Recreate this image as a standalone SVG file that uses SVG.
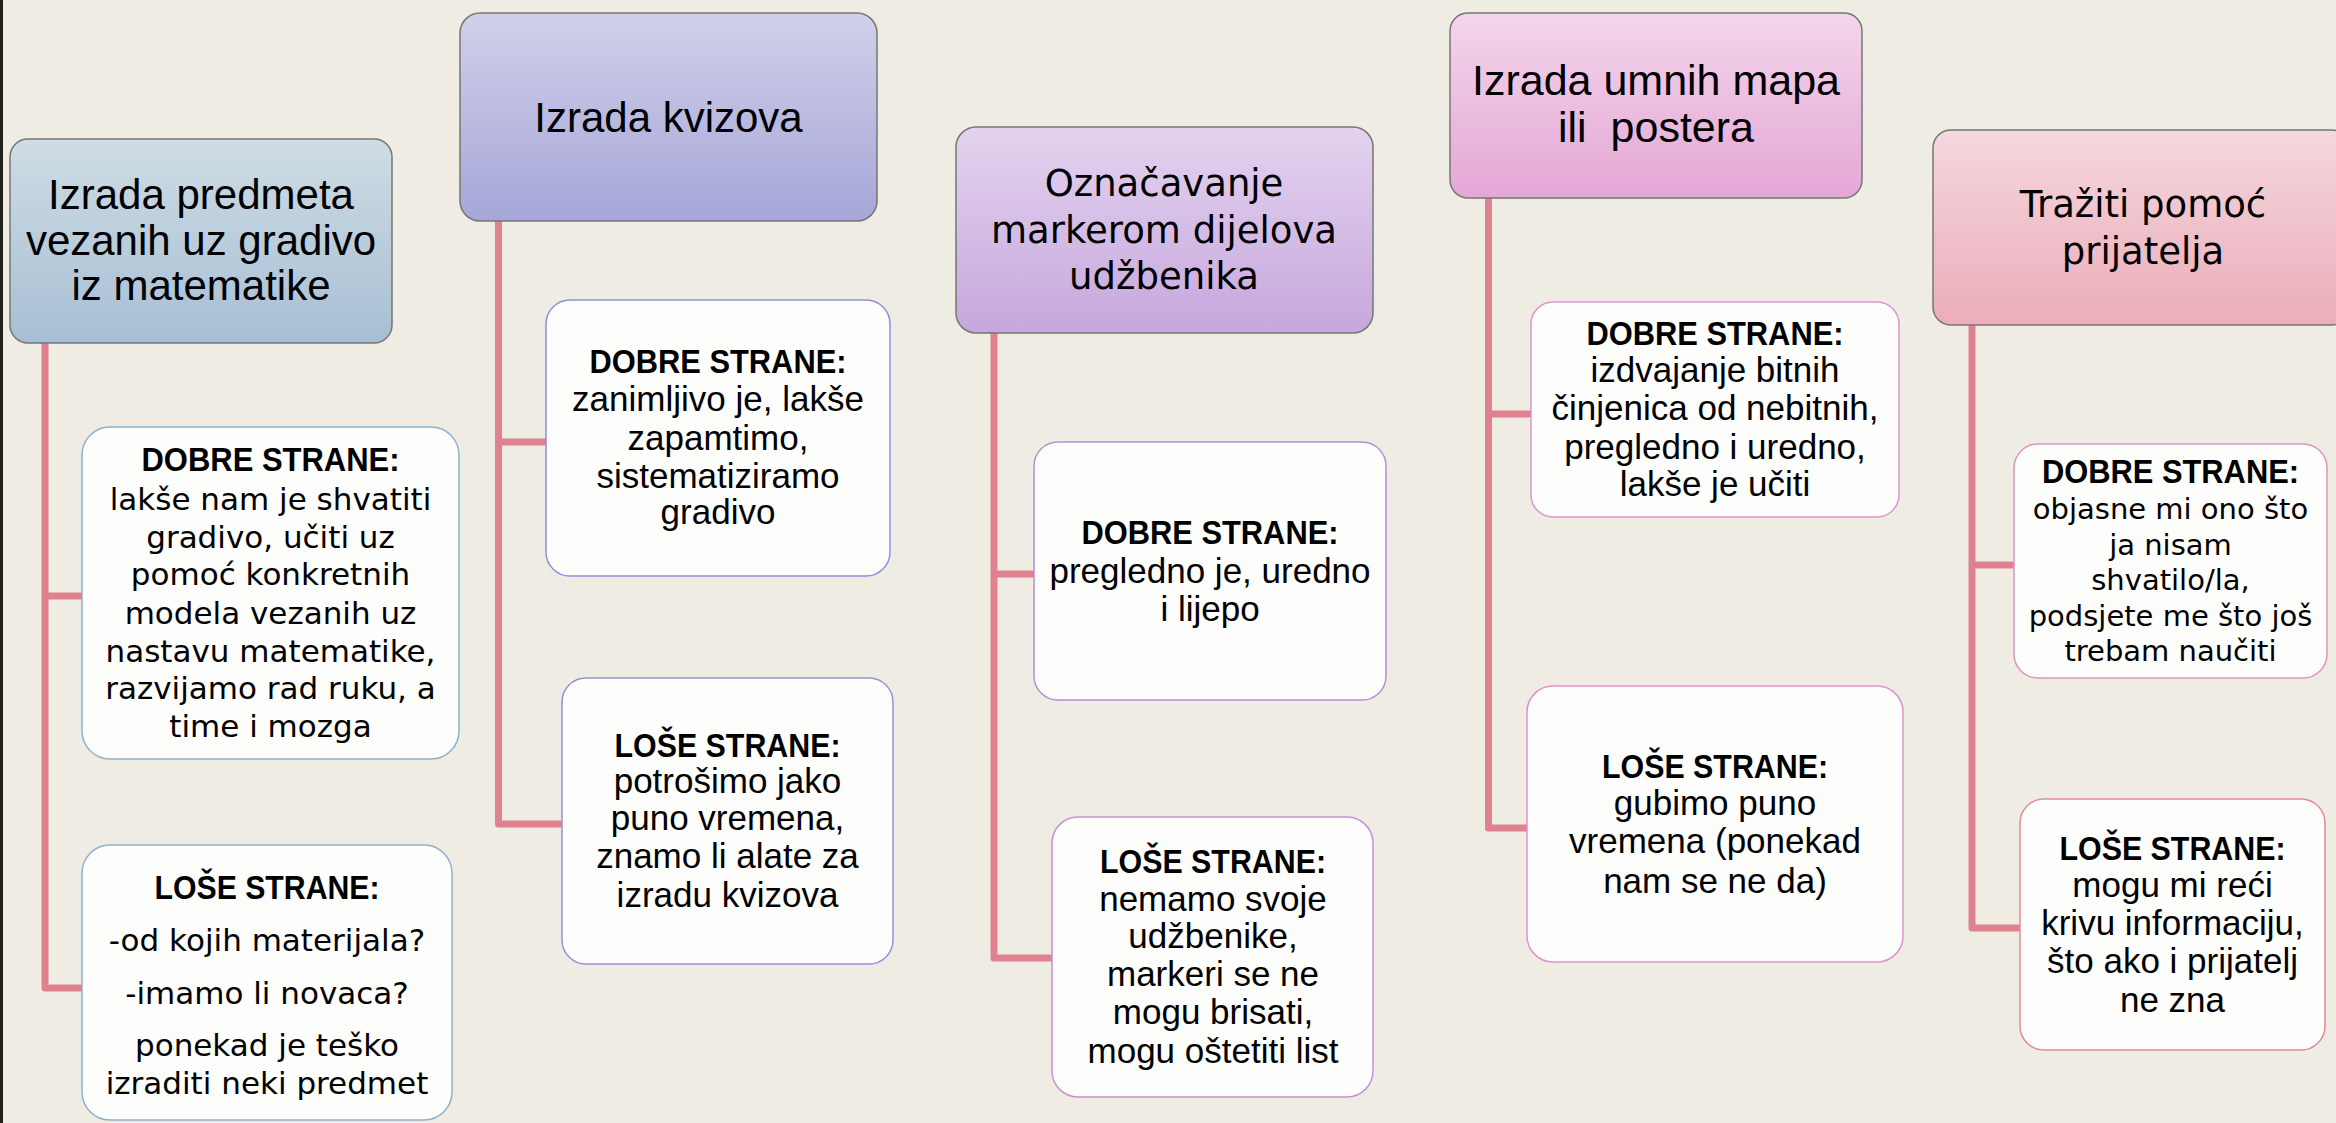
<svg xmlns="http://www.w3.org/2000/svg" width="2336" height="1123" viewBox="0 0 2336 1123">
<defs>
<style>
.bg{fill:#efece4}
.hdr{stroke:#767676;stroke-width:1.5}
.child{fill:#fdfdfb;stroke-width:1.5}
.conn{fill:none;stroke:#e0818f;stroke-width:7;stroke-linejoin:round;stroke-linecap:butt}
text{fill:#000;text-anchor:middle}
.h1{font-family:"Liberation Sans",Arial,sans-serif;font-size:42px}
.h2{font-family:"DejaVu Sans",Verdana,sans-serif;font-size:37px}
.hd{font-family:"Liberation Sans",Arial,sans-serif;font-size:34px;font-weight:bold}
.b{font-family:"Liberation Sans",Arial,sans-serif;font-size:35px}
.bv{font-family:"DejaVu Sans",Verdana,sans-serif;font-size:31px}
.bv2{font-family:"DejaVu Sans",Verdana,sans-serif;font-size:29px}
</style>
<linearGradient id="g1" x1="0" y1="0" x2="0" y2="1"><stop offset="0" stop-color="#cfdce4"/><stop offset="1" stop-color="#a7bfd4"/></linearGradient>
<linearGradient id="g2" x1="0" y1="0" x2="0" y2="1"><stop offset="0" stop-color="#d0d0ea"/><stop offset="1" stop-color="#a6a6d8"/></linearGradient>
<linearGradient id="g3" x1="0" y1="0" x2="0" y2="1"><stop offset="0" stop-color="#e3d3ef"/><stop offset="1" stop-color="#c7a7dd"/></linearGradient>
<linearGradient id="g4" x1="0" y1="0" x2="0" y2="1"><stop offset="0" stop-color="#f3d5eb"/><stop offset="1" stop-color="#e4a7d5"/></linearGradient>
<linearGradient id="g5" x1="0" y1="0" x2="0" y2="1"><stop offset="0" stop-color="#f5d7de"/><stop offset="1" stop-color="#ebadb9"/></linearGradient>
</defs>
<rect class="bg" x="0" y="0" width="2336" height="1123"/>
<rect x="0" y="0" width="3" height="1123" fill="#22221a"/>

<g id="connectors">
<path class="conn" d="M45,343 V988 H82 M45,596 H82"/>
<path class="conn" d="M498.5,220 V824 H562 M498.5,442 H547"/>
<path class="conn" d="M994,332 V958 H1052 M994,574 H1034"/>
<path class="conn" d="M1488.5,198 V828 H1527 M1488.5,414 H1531"/>
<path class="conn" d="M1972,324 V928 H2020 M1972,565 H2015"/>
</g>

<g id="n1">
<rect class="hdr" x="10" y="139" width="382" height="204" rx="18" fill="url(#g1)"/>
<text class="h1" x="201" y="209">Izrada predmeta</text>
<text class="h1" x="201" y="255">vezanih uz gradivo</text>
<text class="h1" x="201" y="300">iz matematike</text>
</g>
<g id="n1a">
<rect class="child" x="82" y="427" width="377" height="332" rx="28" stroke="#8fb1cd"/>
<text class="hd" x="270.5" y="471" textLength="258" lengthAdjust="spacingAndGlyphs">DOBRE STRANE:</text>
<text class="bv" x="270.5" y="510">lakše nam je shvatiti</text>
<text class="bv" x="270.5" y="547.5">gradivo, učiti uz</text>
<text class="bv" x="270.5" y="585">pomoć konkretnih</text>
<text class="bv" x="270.5" y="623.5">modela vezanih uz</text>
<text class="bv" x="270.5" y="662">nastavu matematike,</text>
<text class="bv" x="270.5" y="699">razvijamo rad ruku, a</text>
<text class="bv" x="270.5" y="736.5">time i mozga</text>
</g>
<g id="n1b">
<rect class="child" x="82" y="845" width="370" height="275" rx="28" stroke="#8fb1cd"/>
<text class="hd" x="267" y="899" textLength="225" lengthAdjust="spacingAndGlyphs">LOŠE STRANE:</text>
<text class="bv" x="267" y="951">-od kojih materijala?</text>
<text class="bv" x="267" y="1004">-imamo li novaca?</text>
<text class="bv" x="267" y="1055.5">ponekad je teško</text>
<text class="bv" x="267" y="1094">izraditi neki predmet</text>
</g>

<g id="n2">
<rect class="hdr" x="460" y="13" width="417" height="208" rx="20" fill="url(#g2)"/>
<text class="h1" x="668.5" y="132">Izrada kvizova</text>
</g>
<g id="n2a">
<rect class="child" x="546" y="300" width="344" height="276" rx="24" stroke="#8f90d8"/>
<text class="hd" x="718" y="373" textLength="257" lengthAdjust="spacingAndGlyphs">DOBRE STRANE:</text>
<text class="b" x="718" y="411">zanimljivo je, lakše</text>
<text class="b" x="718" y="450">zapamtimo,</text>
<text class="b" x="718" y="488">sistematiziramo</text>
<text class="b" x="718" y="524">gradivo</text>
</g>
<g id="n2b">
<rect class="child" x="562" y="678" width="331" height="286" rx="24" stroke="#9b8fd8"/>
<text class="hd" x="727.5" y="757" textLength="226" lengthAdjust="spacingAndGlyphs">LOŠE STRANE:</text>
<text class="b" x="727.5" y="793">potrošimo jako</text>
<text class="b" x="727.5" y="830">puno vremena,</text>
<text class="b" x="727.5" y="868">znamo li alate za</text>
<text class="b" x="727.5" y="907">izradu kvizova</text>
</g>

<g id="n3">
<rect class="hdr" x="956" y="127" width="417" height="206" rx="20" fill="url(#g3)"/>
<text class="h2" x="1164" y="196">Označavanje</text>
<text class="h2" x="1164" y="243">markerom dijelova</text>
<text class="h2" x="1164" y="289">udžbenika</text>
</g>
<g id="n3a">
<rect class="child" x="1034" y="442" width="352" height="258" rx="24" stroke="#b88fd8"/>
<text class="hd" x="1210" y="544" textLength="257" lengthAdjust="spacingAndGlyphs">DOBRE STRANE:</text>
<text class="b" x="1210" y="583">pregledno je, uredno</text>
<text class="b" x="1210" y="620.5">i lijepo</text>
</g>
<g id="n3b">
<rect class="child" x="1052" y="817" width="321" height="280" rx="26" stroke="#c690d8"/>
<text class="hd" x="1213" y="873" textLength="226" lengthAdjust="spacingAndGlyphs">LOŠE STRANE:</text>
<text class="b" x="1213" y="911">nemamo svoje</text>
<text class="b" x="1213" y="948">udžbenike,</text>
<text class="b" x="1213" y="986">markeri se ne</text>
<text class="b" x="1213" y="1024">mogu brisati,</text>
<text class="b" x="1213" y="1063">mogu oštetiti list</text>
</g>

<g id="n4">
<rect class="hdr" x="1450" y="13" width="412" height="185" rx="18" fill="url(#g4)"/>
<text class="h1" x="1656" y="95" style="font-size:43px">Izrada umnih mapa</text>
<text class="h1" x="1656" y="142" style="font-size:43px" xml:space="preserve">ili  postera</text>
</g>
<g id="n4a">
<rect class="child" x="1531" y="302" width="368" height="215" rx="22" stroke="#e092d4"/>
<text class="hd" x="1715" y="344.5" textLength="257" lengthAdjust="spacingAndGlyphs">DOBRE STRANE:</text>
<text class="b" x="1715" y="381.5">izdvajanje bitnih</text>
<text class="b" x="1715" y="420">činjenica od nebitnih,</text>
<text class="b" x="1715" y="459">pregledno i uredno,</text>
<text class="b" x="1715" y="496">lakše je učiti</text>
</g>
<g id="n4b">
<rect class="child" x="1527" y="686" width="376" height="276" rx="26" stroke="#e290cc"/>
<text class="hd" x="1715" y="778" textLength="226" lengthAdjust="spacingAndGlyphs">LOŠE STRANE:</text>
<text class="b" x="1715" y="815">gubimo puno</text>
<text class="b" x="1715" y="853">vremena (ponekad</text>
<text class="b" x="1715" y="893">nam se ne da)</text>
</g>

<g id="n5">
<rect class="hdr" x="1933" y="130" width="417" height="195" rx="18" fill="url(#g5)"/>
<text class="h2" x="2143" y="217">Tražiti pomoć</text>
<text class="h2" x="2143" y="264">prijatelja</text>
</g>
<g id="n5a">
<rect class="child" x="2014" y="444" width="313" height="234" rx="24" stroke="#e092c0"/>
<text class="hd" x="2170.5" y="483" textLength="257" lengthAdjust="spacingAndGlyphs">DOBRE STRANE:</text>
<text class="bv2" x="2170.5" y="519">objasne mi ono što</text>
<text class="bv2" x="2170.5" y="555">ja nisam</text>
<text class="bv2" x="2170.5" y="590">shvatilo/la,</text>
<text class="bv2" x="2170.5" y="626">podsjete me što još</text>
<text class="bv2" x="2170.5" y="660.5">trebam naučiti</text>
</g>
<g id="n5b">
<rect class="child" x="2020" y="799" width="305" height="251" rx="24" stroke="#e08a9c"/>
<text class="hd" x="2172.5" y="860" textLength="226" lengthAdjust="spacingAndGlyphs">LOŠE STRANE:</text>
<text class="b" x="2172.5" y="897">mogu mi reći</text>
<text class="b" x="2172.5" y="935">krivu informaciju,</text>
<text class="b" x="2172.5" y="973">što ako i prijatelj</text>
<text class="b" x="2172.5" y="1012">ne zna</text>
</g>
</svg>
